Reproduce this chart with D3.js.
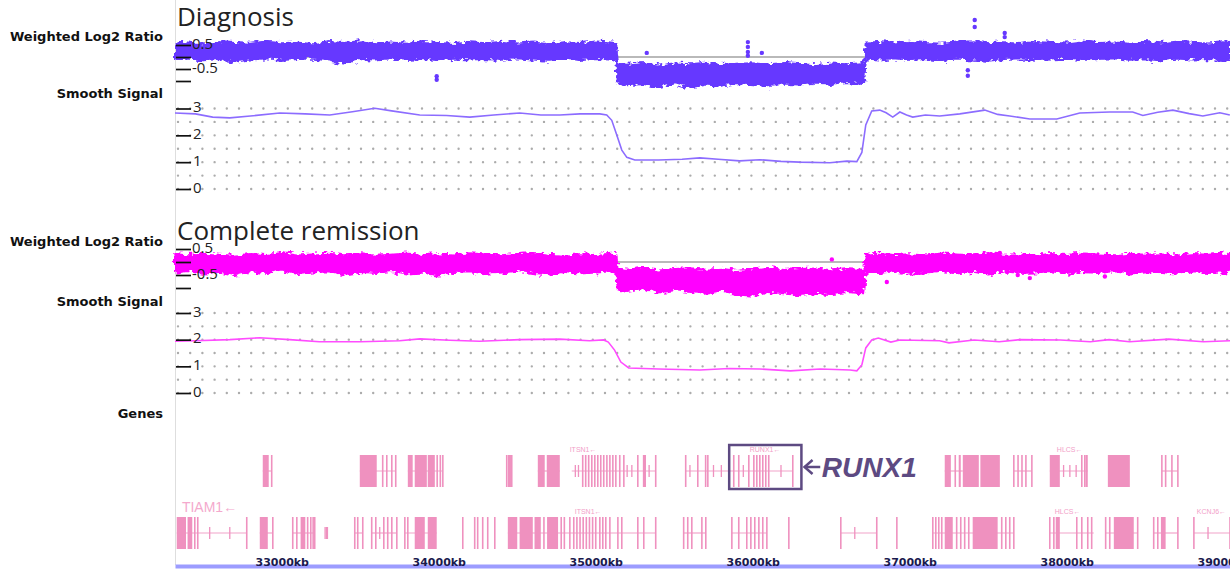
<!DOCTYPE html>
<html>
<head>
<meta charset="utf-8">
<script src="https://d3js.org/d3.v7.min.js"></script>
<style>
  body { margin: 0; background: #fff; }
  .title { font-family: "Open Sans", sans-serif; font-size: 26px; fill: #222; }
  .lab { font-family: "DejaVu Sans", sans-serif; font-weight: bold; font-size: 13px; fill: #111; }
  .yax text { font-family: "Open Sans", sans-serif; font-size: 15px; fill: #222; }
  .yax line { stroke: #111; stroke-width: 1.7; }
  .xax text { font-family: "DejaVu Sans", sans-serif; font-weight: bold; font-size: 11px; fill: #1a1a4e; }
</style>
</head>
<body>
<div id="chart"></div>
<script>
// positions (kb) where the edges of the ratio point clouds were read
var kbPos = [32320, 32400, 32500, 32600, 32700, 32800, 32900, 33000, 33100, 33200, 33300, 33400, 33500, 33600,
  33700, 33800, 33900, 34000, 34100, 34200, 34300, 34400, 34500, 34600, 34700, 34800, 34900, 35000, 35100,
  35130, 35140, 35200, 35300, 35400, 35500, 35600, 35700, 35800, 35900, 36000, 36100, 36200, 36300, 36400,
  36500, 36600, 36700, 36710, 36720, 36800, 36900, 37000, 37100, 37200, 37300, 37400, 37500, 37600, 37700,
  37800, 37900, 38000, 38100, 38200, 38300, 38400, 38500, 38600, 38700, 38800, 38900, 39000, 39040];

// Diagnosis - weighted log2 ratio, upper / lower edge of the cloud
var diagHi = [0.55, 0.60, 0.52, 0.62, 0.58, 0.55, 0.64, 0.57, 0.60, 0.53, 0.62, 0.58, 0.66, 0.57, 0.60, 0.55,
  0.63, 0.58, 0.54, 0.61, 0.57, 0.64, 0.56, 0.60, 0.53, 0.62, 0.58, 0.65, 0.60,
  0.58,
  -0.28, -0.32, -0.25, -0.35, -0.27, -0.30, -0.24, -0.33, -0.28, -0.26, -0.31, -0.25, -0.29, -0.34, -0.27, -0.30, -0.26,
  -0.30,
  0.60,
  0.62, 0.56, 0.64, 0.58, 0.55, 0.60, 0.66, 0.57, 0.61, 0.54, 0.63, 0.59, 0.56, 0.65, 0.58, 0.60, 0.55, 0.62, 0.57,
  0.64, 0.59, 0.56, 0.61,
  0.58];
var diagLo = [-0.10, -0.06, -0.14, -0.08, -0.20, -0.10, -0.05, -0.12, -0.08, -0.06, -0.15, -0.27, -0.08, -0.10,
  -0.05, -0.12, -0.08, -0.14, -0.06, -0.10, -0.08, -0.12, -0.05, -0.10, -0.16, -0.07, -0.12, -0.08, -0.10,
  -0.08,
  -1.05, -1.18, -1.12, -1.25, -1.10, -1.28, -1.15, -1.20, -1.08, -1.14, -1.22, -1.10, -1.16, -1.06, -1.12, -1.04, -1.08,
  -1.05,
  -0.06,
  -0.10, -0.05, -0.12, -0.08, -0.14, -0.06, -0.10, -0.16, -0.08, -0.05, -0.12, -0.10, -0.07, -0.13, -0.08, -0.05,
  -0.11, -0.09, -0.14, -0.06, -0.10, -0.08, -0.12,
  -0.08];
var diagOutKb = [33987, 33987, 35325, 35969, 35969, 35969, 35969, 36058, 37370, 37370, 37414, 37414, 37605, 37605];
var diagOutVal = [-0.80, -0.95, 0.17, 0.62, 0.42, 0.21, 0.05, 0.17, -0.55, -0.78, 1.54, 1.25, 1.00, 0.83];

// Diagnosis - smooth signal
var diagSmoothKb = [32320, 32450, 32560, 32669, 32800, 32987, 33150, 33306, 33450, 33592, 33700, 33879, 34050,
  34198, 34350, 34516, 34650, 34771, 34900, 35026, 35070, 35102, 35134, 35166, 35198, 35249, 35400, 35550, 35663,
  35780, 35917, 36045, 36180, 36300, 36491, 36600, 36663, 36695, 36720, 36758, 36809, 36850, 36892, 36937, 36980,
  37019, 37100, 37191, 37319, 37478, 37560, 37637, 37765, 37937, 38083, 38274, 38420, 38485, 38580, 38676, 38780,
  38867, 38975, 39039];
var diagSmooth = [2.83, 2.80, 2.68, 2.65, 2.72, 2.83, 2.80, 2.76, 2.88, 3.01, 2.91, 2.76, 2.74, 2.68, 2.76, 2.83,
  2.76, 2.76, 2.80, 2.80, 2.76, 2.56, 2.01, 1.45, 1.18, 1.08, 1.08, 1.11, 1.16, 1.11, 1.05, 1.09, 1.03, 1.00, 0.98,
  1.04, 1.02, 1.36, 2.39, 2.91, 2.94, 2.84, 2.68, 2.87, 2.76, 2.68, 2.76, 2.72, 2.80, 2.94, 2.78, 2.72, 2.61, 2.61,
  2.83, 2.87, 2.87, 2.74, 2.86, 2.94, 2.81, 2.72, 2.84, 2.76];

// Complete remission - weighted log2 ratio
var remHi = [0.30, 0.26, 0.33, 0.28, 0.24, 0.31, 0.27, 0.35, 0.25, 0.29, 0.32, 0.26, 0.30, 0.24, 0.28, 0.33, 0.27,
  0.30, 0.25, 0.34, 0.29, 0.26, 0.31, 0.35, 0.28, 0.24, 0.30, 0.27, 0.32,
  0.30,
  -0.25, -0.30, -0.22, -0.33, -0.27, -0.24, -0.30, -0.26, -0.35, -0.28, -0.23, -0.31, -0.27, -0.25, -0.32, -0.28, -0.30,
  -0.30,
  0.28,
  0.32, 0.27, 0.30, 0.25, 0.33, 0.29, 0.26, 0.35, 0.28, 0.30, 0.24, 0.31, 0.27, 0.33, 0.29, 0.26, 0.32, 0.28, 0.30,
  0.25, 0.31, 0.28, 0.33,
  0.30];
var remLo = [-0.40, -0.35, -0.45, -0.38, -0.50, -0.36, -0.42, -0.33, -0.46, -0.40, -0.36, -0.48, -0.38, -0.42,
  -0.35, -0.44, -0.40, -0.52, -0.38, -0.36, -0.45, -0.40, -0.34, -0.42, -0.48, -0.38, -0.44, -0.40, -0.36,
  -0.40,
  -1.05, -1.12, -1.00, -1.18, -1.08, -1.15, -1.22, -1.10, -1.25, -1.30, -1.15, -1.20, -1.28, -1.18, -1.24, -1.15, -1.20,
  -1.18,
  -0.38,
  -0.42, -0.36, -0.45, -0.40, -0.34, -0.43, -0.38, -0.48, -0.36, -0.42, -0.40, -0.35, -0.46, -0.38, -0.42, -0.36,
  -0.44, -0.40, -0.38, -0.45, -0.36, -0.42, -0.40,
  -0.38];
var remOutKb = [36504, 36854, 37574, 37688, 37765, 38243];
var remOutVal = [0.10, -0.77, 0.35, -0.50, -0.62, -0.56];

// Complete remission - smooth signal
var remSmoothKb = [32320, 32450, 32669, 32860, 33050, 33240, 33500, 33750, 33880, 34070, 34260, 34516, 34771,
  34960, 35050, 35080, 35120, 35160, 35210, 35400, 35663, 35850, 36045, 36240, 36430, 36620, 36663, 36695, 36720,
  36758, 36800, 36880, 36937, 37190, 37250, 37410, 37570, 37700, 37960, 38150, 38270, 38400, 38650, 38870, 39040];
var remSmooth = [1.94, 1.96, 2.00, 2.07, 2.00, 1.92, 1.92, 1.96, 2.03, 1.98, 1.94, 2.00, 2.02, 1.96, 1.99, 1.91,
  1.61, 1.16, 0.94, 0.90, 0.86, 0.92, 0.90, 0.83, 0.90, 0.86, 0.83, 1.05, 1.69, 1.99, 2.06, 1.91, 1.99, 1.96, 1.88,
  1.99, 1.92, 2.00, 1.99, 1.92, 2.00, 1.92, 2.02, 1.92, 1.96];

var ratioTicks = [0.5, 0, -0.5, -1];
var smoothTicks = [0, 1, 2, 3];
var gridVals = [0, 0.5, 1, 1.5, 2, 2.5, 3];
var kbTicks = [33000, 34000, 35000, 36000, 37000, 38000, 39000];

// gene models, two rows (kb)
var genes1Introns = [[32879, 32936], [33497, 33726], [33803, 34026], [34631, 34771], [34847, 35382], [35573, 36255],
  [37223, 37338], [37663, 37778], [37892, 38134], [38606, 38708]];
var genes1Blocks = [[32879, 32917], [33497, 33605], [33803, 33834], [33847, 33924], [33930, 33975], [34440, 34460],
  [34631, 34675], [34688, 34771], [35300, 35320], [37223, 37262], [37312, 37325], [37338, 37440], [37450, 37574],
  [37892, 37956], [38120, 38134], [38262, 38402]];
var genes1Lines = [32936, 33643, 33669, 33701, 33726, 33990, 34010, 34026, 34433, 34465, 34917, 34936, 34955,
  34975, 34994, 35013, 35032, 35051, 35071, 35090, 35109, 35128, 35153, 35179, 35268, 35382, 35573, 35650, 35700,
  35714, 35879, 35911, 35975, 36007, 36026, 36045, 36064, 36083, 36102, 36255, 37290, 37663, 37690, 37715, 37740,
  37778, 38096, 38115, 38606, 38630, 38670, 38708];
var genes1Ticks = [34870, 34890, 35200, 35230, 35340, 35600, 35750, 35800, 35940, 36180, 37980, 38020, 38060];

var genes2Introns = [[32331, 32777], [32860, 32943], [33070, 33210], [33465, 33516], [33573, 33733], [33784, 33987],
  [34440, 35382], [35560, 35701], [35867, 36090], [36561, 36790], [37147, 37663], [37892, 38172], [38248, 38452],
  [38554, 38708], [38810, 39040]];
var genes2Blocks = [[32331, 32390], [32400, 32430], [32860, 32911], [33120, 33150], [33847, 33911], [33930, 33987],
  [34440, 34500], [34515, 34599], [34610, 34650], [34690, 34760], [37223, 37274], [37401, 37560], [37930, 37956],
  [38300, 38427], [38600, 38630]];
var genes2Lines = [32446, 32465, 32777, 32943, 33070, 33096, 33165, 33185, 33200, 33210, 33465, 33484, 33516,
  33573, 33599, 33650, 33675, 33701, 33733, 33784, 33803, 34153, 34229, 34248, 34280, 34312, 34357, 34670, 34780,
  34800, 34835, 34860, 34880, 34900, 34920, 34940, 34960, 34980, 35000, 35026, 35045, 35064, 35090, 35141, 35166,
  35268, 35306, 35382, 35560, 35586, 35612, 35676, 35701, 35867, 35911, 35962, 35988, 36013, 36039, 36064, 36090,
  36230, 36561, 36790, 36918, 37147, 37166, 37185, 37204, 37299, 37325, 37350, 37376, 37586, 37612, 37637, 37663,
  37892, 37918, 38064, 38096, 38134, 38159, 38248, 38274, 38452, 38554, 38580, 38708, 38810, 39040];
var genes2Ticks = [32541, 32669, 33276, 33284, 33291, 33624, 36650, 38900];

var geneNames = ["ITSN1\u2190", "RUNX1\u2190", "HLCS\u2190", "ITSN1\u2190", "HLCS\u2190", "KCNJ6\u2190"];
var geneNameKb = [34834, 35981, 37937, 34866, 37924, 38829];
var geneNameRow = [0, 0, 0, 1, 1, 1];

var W = 1230, H = 571;
var svg = d3.select("#chart").append("svg").attr("width", W).attr("height", H);

// roughen the edges of the dense point clouds
var defs = svg.append("defs");
var flt = defs.append("filter").attr("id", "rough")
  .attr("x", "-2%").attr("y", "-40%").attr("width", "104%").attr("height", "180%");
flt.append("feTurbulence").attr("type", "fractalNoise").attr("baseFrequency", "0.18 0.3")
  .attr("numOctaves", 2).attr("seed", 7).attr("result", "noise");
flt.append("feDisplacementMap").attr("in", "SourceGraphic").attr("in2", "noise")
  .attr("scale", 8).attr("xChannelSelector", "R").attr("yChannelSelector", "G");

var x = d3.scaleLinear().domain([32320, 39040]).range([175, 1230]);

// faint left border of the track area
svg.append("line").attr("x1", 175.5).attr("x2", 175.5).attr("y1", 0).attr("y2", 565)
  .attr("stroke", "#dedede").attr("stroke-width", 1);

function drawSample(o) {
  svg.append("text").attr("class", "title").attr("x", 177).attr("y", o.titleY).text(o.title);
  svg.append("text").attr("class", "lab").attr("x", 163).attr("y", o.ratioLabY)
    .attr("text-anchor", "end").text("Weighted Log2 Ratio");
  svg.append("text").attr("class", "lab").attr("x", 163).attr("y", o.smoothLabY)
    .attr("text-anchor", "end").text("Smooth Signal");

  // dotted grid of smooth signal
  svg.append("g").selectAll("line").data(gridVals).enter().append("line")
    .attr("x1", 178).attr("x2", 1230)
    .attr("y1", function (d) { return o.ys(d); }).attr("y2", function (d) { return o.ys(d); })
    .attr("stroke", "#acacac").attr("stroke-width", 2.4)
    .attr("stroke-linecap", "round").attr("stroke-dasharray", "0 12.2");

  // zero line
  svg.append("line").attr("x1", 175).attr("x2", 1230)
    .attr("y1", o.yr(0)).attr("y2", o.yr(0))
    .attr("stroke", "#b9b9b9").attr("stroke-width", 2);

  // ratio point cloud
  var idx = d3.range(kbPos.length);
  var area = d3.area()
    .x(function (i) { return x(kbPos[i]); })
    .y0(function (i) { return o.yr(o.lo[i]); })
    .y1(function (i) { return o.yr(o.hi[i]); });
  svg.append("path").datum(idx).attr("d", area)
    .attr("fill", o.color).attr("stroke", o.color).attr("stroke-width", 2)
    .attr("stroke-linejoin", "round").attr("filter", "url(#rough)");

  svg.append("g").selectAll("circle").data(o.outKb).enter().append("circle")
    .attr("cx", function (d) { return x(d); })
    .attr("cy", function (d, i) { return o.yr(o.outVal[i]); })
    .attr("r", 2.2).attr("fill", o.color);

  // smooth signal line
  var line = d3.line()
    .x(function (d, i) { return x(o.smoothKb[i]); })
    .y(function (d) { return o.ys(d); });
  svg.append("path").datum(o.smooth).attr("d", line)
    .attr("fill", "none").attr("stroke", o.lineColor).attr("stroke-width", 1.6);

  // axes on top
  var ra = d3.axisRight(o.yr).tickValues(ratioTicks).tickSize(15).tickPadding(1)
    .tickFormat(function (d) { return (d === 0.5 || d === -0.5) ? d : ""; });
  var rg = svg.append("g").attr("class", "yax").attr("transform", "translate(176,0)").call(ra);
  rg.select(".domain").remove();
  rg.selectAll("text").attr("dy", "0.2em");

  var sa = d3.axisRight(o.ys).tickValues(smoothTicks).tickSize(15).tickPadding(2)
    .tickFormat(d3.format("d"));
  var sg = svg.append("g").attr("class", "yax").attr("transform", "translate(176,0)").call(sa);
  sg.select(".domain").remove();
  sg.selectAll("text").attr("dy", "0.2em");
}

drawSample({
  title: "Diagnosis", titleY: 26, ratioLabY: 41, smoothLabY: 98,
  yr: d3.scaleLinear().domain([-1, 0.5]).range([81, 45]),
  ys: d3.scaleLinear().domain([0, 3]).range([189, 108.5]),
  hi: diagHi, lo: diagLo, outKb: diagOutKb, outVal: diagOutVal,
  smoothKb: diagSmoothKb, smooth: diagSmooth,
  color: "#6638ff", lineColor: "#8c6cff"
});

drawSample({
  title: "Complete remission", titleY: 240, ratioLabY: 246, smoothLabY: 306,
  yr: d3.scaleLinear().domain([-1, 0.5]).range([288, 249]),
  ys: d3.scaleLinear().domain([0, 3]).range([393, 313]),
  hi: remHi, lo: remLo, outKb: remOutKb, outVal: remOutVal,
  smoothKb: remSmoothKb, smooth: remSmooth,
  color: "#ff00ff", lineColor: "#ff4cff"
});

// genes
svg.append("text").attr("class", "lab").attr("x", 163).attr("y", 418)
  .attr("text-anchor", "end").text("Genes");

var geneCol = "#ef91bf";
function drawGenes(top, introns, blocks, lines, ticks) {
  var h = 32, mid = top + h / 2;
  var g = svg.append("g");
  g.selectAll(".intr").data(introns).enter().append("line")
    .attr("x1", function (d) { return x(d[0]); }).attr("x2", function (d) { return x(d[1]); })
    .attr("y1", mid).attr("y2", mid).attr("stroke", "#f2a3c9").attr("stroke-width", 1.2);
  g.selectAll(".blk").data(blocks).enter().append("rect")
    .attr("x", function (d) { return x(d[0]); })
    .attr("width", function (d) { return Math.max(1.5, x(d[1]) - x(d[0])); })
    .attr("y", top).attr("height", h).attr("fill", geneCol);
  g.selectAll(".ln").data(lines).enter().append("line")
    .attr("x1", function (d) { return x(d); }).attr("x2", function (d) { return x(d); })
    .attr("y1", top).attr("y2", top + h).attr("stroke", geneCol).attr("stroke-width", 1.6);
  g.selectAll(".tk").data(ticks).enter().append("line")
    .attr("x1", function (d) { return x(d); }).attr("x2", function (d) { return x(d); })
    .attr("y1", mid - 6).attr("y2", mid + 6).attr("stroke", geneCol).attr("stroke-width", 1.3);
}
drawGenes(455, genes1Introns, genes1Blocks, genes1Lines, genes1Ticks);
drawGenes(517, genes2Introns, genes2Blocks, genes2Lines, genes2Ticks);

svg.append("g").selectAll("text").data(geneNames).enter().append("text")
  .attr("x", function (d, i) { return x(geneNameKb[i]); })
  .attr("y", function (d, i) { return geneNameRow[i] === 0 ? 452 : 514; })
  .style("font-family", "Liberation Sans, sans-serif").style("font-size", "7px")
  .attr("fill", "#f2a0c8").text(function (d) { return d; });

svg.append("text").attr("x", x(32364)).attr("y", 512)
  .style("font-family", "Liberation Sans, sans-serif").style("font-size", "14px")
  .attr("fill", "#f4a9cd").text("TIAM1\u2190");

// RUNX1 highlight
var runxCol = "#5d4a82";
svg.append("rect").attr("x", x(35850)).attr("y", 445)
  .attr("width", x(36310) - x(35850)).attr("height", 44)
  .attr("fill", "none").attr("stroke", runxCol).attr("stroke-width", 2.5);
svg.append("line").attr("x1", x(36330)).attr("x2", x(36430)).attr("y1", 467).attr("y2", 467)
  .attr("stroke", runxCol).attr("stroke-width", 2.5);
svg.append("path")
  .attr("d", "M" + (x(36330) + 8) + ",460 L" + x(36330) + ",467 L" + (x(36330) + 8) + ",474")
  .attr("fill", "none").attr("stroke", runxCol).attr("stroke-width", 2.5);
svg.append("text").attr("x", x(36440)).attr("y", 477)
  .style("font-family", "Liberation Sans, sans-serif").style("font-size", "28px")
  .style("font-weight", "bold").style("font-style", "italic")
  .attr("fill", runxCol).text("RUNX1");

// kb axis
var xa = d3.axisTop(x).tickValues(kbTicks).tickSize(0).tickPadding(0).tickSizeOuter(0)
  .tickFormat(function (d) { return d + "kb"; });
var xg = svg.append("g").attr("class", "xax").attr("transform", "translate(0,566)").call(xa);
xg.select(".domain").attr("stroke", "#9c9cff").attr("stroke-width", 4);
</script>
</body>
</html>
